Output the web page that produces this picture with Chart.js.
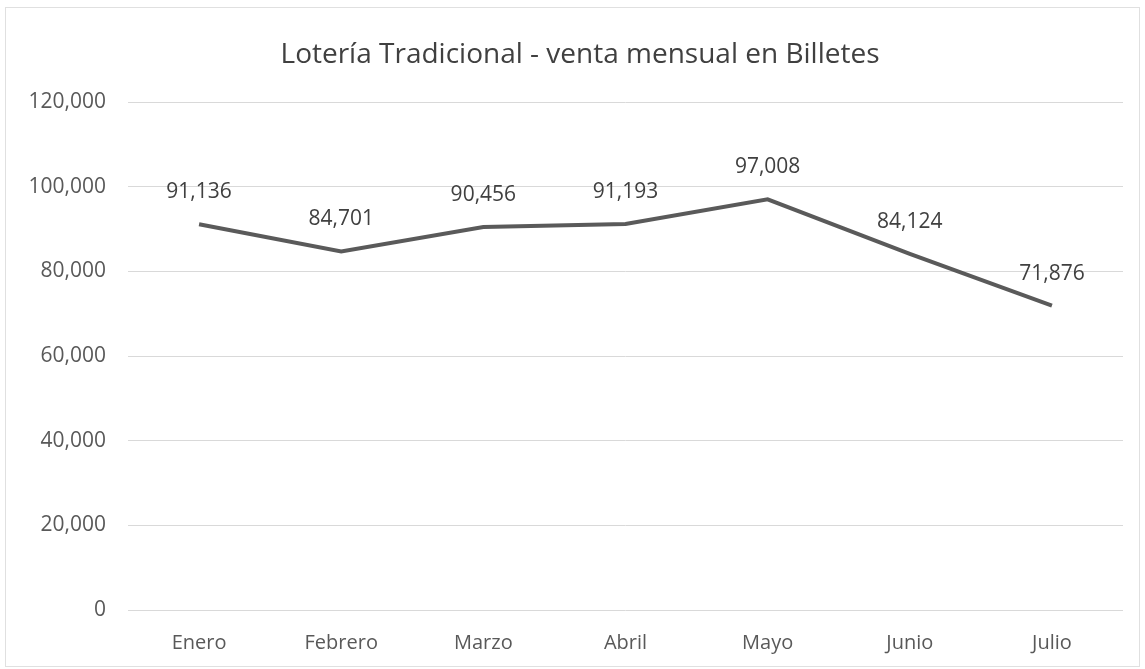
<!DOCTYPE html>
<html>
<head>
<meta charset="utf-8">
<script src="https://cdn.jsdelivr.net/npm/chart.js@4.4.0/dist/chart.umd.min.js"></script>
<style>
html,body{margin:0;padding:0;background:#fff;}
#wrap{position:absolute;left:0;top:0;width:1145px;height:669px;}
#frame{position:absolute;left:5px;top:7px;width:1135px;height:660px;border:1px solid #e0e0e0;box-sizing:border-box;}
canvas{position:absolute;left:0;top:0;}
</style>
</head>
<body>
<div id="wrap">
<div id="frame"></div>
<canvas id="c" width="1145" height="669"></canvas>
</div>
<script>
const titleText = "Lotería Tradicional - venta mensual en Billetes";
const categories = ["Enero","Febrero","Marzo","Abril","Mayo","Junio","Julio"];
const ventas = [91136, 84701, 90456, 91193, 97008, 84124, 71876];
const yMin = 0, yMax = 120000, yStep = 20000;

const FONT = "'Open Sans', sans-serif";
const fmt = v => v.toLocaleString('en-US');

const labelPlugin = {
  id: 'pointLabels',
  afterDatasetsDraw(chart) {
    const ctx = chart.ctx;
    const meta = chart.getDatasetMeta(0);
    ctx.save();
    ctx.font = "21px " + FONT;
    ctx.fillStyle = "#404040";
    ctx.textAlign = "center";
    ctx.textBaseline = "middle";
    meta.data.forEach((pt, i) => {
      ctx.fillText(fmt(chart.data.datasets[0].data[i]), pt.x, pt.y - 32);
    });
    ctx.restore();
  }
};

// Chart title, centred over the framed chart (slightly right of the canvas centre, as in the reference)
const titlePlugin = {
  id: 'frameTitle',
  afterDraw(chart) {
    const ctx = chart.ctx;
    ctx.save();
    ctx.font = "28px " + FONT;
    ctx.fillStyle = "#404040";
    ctx.textAlign = "center";
    ctx.textBaseline = "middle";
    ctx.fillText(titleText, (37 + chart.chartArea.right) / 2, 55);
    ctx.restore();
  }
};

new Chart(document.getElementById('c'), {
  type: 'line',
  data: {
    labels: categories,
    datasets: [{
      data: ventas,
      borderColor: '#5a5a5a',
      borderWidth: 4,
      pointRadius: 0,
      tension: 0,
      fill: false
    }]
  },
  options: {
    responsive: false,
    animation: false,
    layout: { padding: { left: 10, right: 22, top: 102, bottom: 0 } },
    plugins: {
      legend: { display: false },
      tooltip: { enabled: false },
      title: { display: false }
    },
    scales: {
      x: {
        offset: true,
        grid: { display: false, drawTicks: false },
        border: { display: false },
        ticks: { color: '#595959', font: { family: FONT, size: 20 }, padding: 21 },
        afterFit(s) { s.height = 59; }
      },
      y: {
        min: yMin, max: yMax,
        grid: { color: '#d9d9d9', lineWidth: 1, drawTicks: false },
        border: { display: false },
        ticks: {
          stepSize: yStep,
          color: '#595959',
          font: { family: FONT, size: 21 },
          padding: 22,
          callback: v => fmt(v)
        },
        afterFit(s) { s.width = 118; }
      }
    }
  },
  plugins: [labelPlugin, titlePlugin]
});
</script>
</body>
</html>
